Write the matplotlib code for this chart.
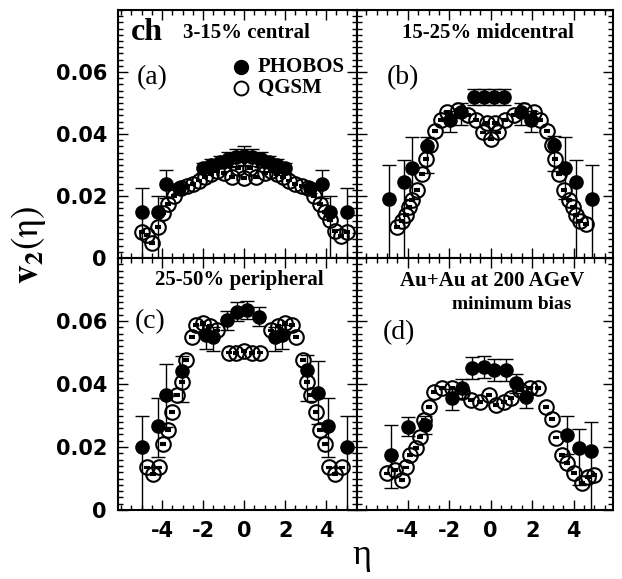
import matplotlib
matplotlib.use("Agg")
import matplotlib.pyplot as plt
from matplotlib.ticker import MultipleLocator, FixedLocator, NullFormatter

# ---- PHOBOS (filled) : eta, v2, upper err, lower err ----
eta_ph_a = [-5.0, -4.2, -3.8, -3.2, -2.0, -1.6, -1.2, -0.8, -0.4, 0.0, 0.4, 0.8, 1.2, 1.6, 2.0, 3.2, 3.8, 4.2, 5.0]
v2_ph_a = [0.015, 0.015, 0.0238, 0.0225, 0.029, 0.030, 0.031, 0.0318, 0.0325, 0.033, 0.0325, 0.0318, 0.031, 0.030, 0.029, 0.0225, 0.0238, 0.015, 0.015]
up_ph_a = [0.0075, 0.005, 0.0045, 0.0015, 0.0015, 0.002, 0.002, 0.0025, 0.0028, 0.003, 0.0028, 0.0025, 0.002, 0.002, 0.0015, 0.0015, 0.0045, 0.005, 0.0075]
dn_ph_a = [0.015, 0.015, 0.0045, 0.0015, 0.0015, 0.002, 0.002, 0.0025, 0.0028, 0.003, 0.0028, 0.0025, 0.002, 0.002, 0.0015, 0.0015, 0.0045, 0.015, 0.015]

eta_ph_b = [-4.9, -4.2, -3.8, -3.05, -1.95, -1.45, -0.8, -0.3, 0.15, 0.65, 1.45, 1.95, 3.05, 3.6, 4.1, 4.9]
v2_ph_b = [0.019, 0.0246, 0.029, 0.036, 0.0445, 0.047, 0.052, 0.052, 0.052, 0.052, 0.047, 0.0445, 0.0365, 0.029, 0.0246, 0.019]
up_ph_b = [0.011, 0.007, 0.010, 0.003, 0.003, 0.003, 0.0025, 0.0025, 0.0025, 0.0025, 0.003, 0.003, 0.003, 0.010, 0.007, 0.011]
dn_ph_b = [0.019, 0.0246, 0.010, 0.0085, 0.004, 0.004, 0.0025, 0.0025, 0.0025, 0.0025, 0.004, 0.004, 0.0085, 0.010, 0.0246, 0.019]

eta_ph_c = [-5.0, -4.2, -3.8, -3.05, -1.85, -1.5, -0.85, -0.37, 0.12, 0.7, 1.5, 1.85, 3.05, 3.6, 4.1, 5.0]
v2_ph_c = [0.0201, 0.0267, 0.0365, 0.0442, 0.0556, 0.055, 0.0603, 0.063, 0.0635, 0.0614, 0.055, 0.0556, 0.0444, 0.0373, 0.0267, 0.0201]
up_ph_c = [0.0097, 0.0088, 0.010, 0.0048, 0.003, 0.003, 0.003, 0.003, 0.003, 0.003, 0.003, 0.003, 0.0048, 0.010, 0.0088, 0.0097]
dn_ph_c = [0.0201, 0.0098, 0.010, 0.0098, 0.0045, 0.0045, 0.003, 0.003, 0.003, 0.003, 0.0045, 0.0045, 0.0098, 0.010, 0.0098, 0.0201]

eta_ph_d = [-4.83, -4.0, -3.17, -1.85, -1.37, -0.88, -0.32, 0.16, 0.72, 1.2, 1.7, 3.7, 4.27, 4.83]
v2_ph_d = [0.0175, 0.0265, 0.027, 0.0354, 0.0386, 0.045, 0.0455, 0.0444, 0.0444, 0.0402, 0.036, 0.0238, 0.0196, 0.0187]
up_ph_d = [0.0095, 0.003, 0.003, 0.003, 0.003, 0.0035, 0.0035, 0.0035, 0.0035, 0.003, 0.003, 0.006, 0.006, 0.0093]
dn_ph_d = [0.0106, 0.003, 0.003, 0.0037, 0.003, 0.0035, 0.0035, 0.0035, 0.0035, 0.003, 0.0037, 0.006, 0.0117, 0.0187]

# ---- QGSM (open) : eta, v2 ----
eta_qg_a = [-5.0, -4.75, -4.5, -4.2, -3.95, -3.7, -3.4, -3.1, -2.8, -2.5, -2.2, -1.9, -1.6, -1.3, -1.0, -0.6, -0.3, 0.0,
            0.3, 0.6, 1.0, 1.3, 1.6, 1.9, 2.2, 2.5, 2.8, 3.1, 3.4, 3.7, 3.95, 4.2, 4.45, 4.7, 5.0]
v2_qg_a = [0.0085, 0.0075, 0.0048, 0.010, 0.0145, 0.0175, 0.020, 0.0225, 0.0232, 0.024, 0.025, 0.026, 0.0272, 0.0282, 0.0275, 0.026, 0.029, 0.0258,
           0.029, 0.026, 0.0275, 0.0282, 0.0272, 0.026, 0.025, 0.024, 0.0232, 0.0225, 0.020, 0.0175, 0.0148, 0.0123, 0.0087, 0.0072, 0.0085]

eta_qg_b = [-4.5, -4.3, -4.1, -3.95, -3.8, -3.55, -3.3, -3.1, -2.95, -2.7, -2.4, -2.1, -1.6, -1.1, -0.7, -0.35, -0.2, 0.0,
            0.2, 0.35, 0.7, 1.1, 1.6, 2.1, 2.4, 2.7, 2.95, 3.1, 3.3, 3.55, 3.8, 3.95, 4.1, 4.3, 4.6]
v2_qg_b = [0.0101, 0.0118, 0.014, 0.0165, 0.0187, 0.022, 0.027, 0.032, 0.0364, 0.041, 0.0445, 0.047, 0.0477, 0.0461, 0.0445, 0.0405, 0.0435, 0.0385,
           0.0435, 0.0405, 0.0445, 0.0461, 0.0477, 0.047, 0.0445, 0.041, 0.0364, 0.032, 0.027, 0.022, 0.0187, 0.0165, 0.014, 0.0118, 0.0109]

eta_qg_c = [-4.75, -4.45, -4.15, -3.95, -3.7, -3.5, -3.25, -3.05, -2.85, -2.55, -2.35, -2.0, -1.65, -1.3, -0.75, -0.4, 0.0,
            0.4, 0.75, 1.3, 1.65, 2.0, 2.35, 2.55, 2.85, 3.05, 3.25, 3.5, 3.7, 3.95, 4.15, 4.45, 4.75]
v2_qg_c = [0.0135, 0.0115, 0.0135, 0.021, 0.0255, 0.031, 0.0365, 0.0405, 0.0475, 0.055, 0.0588, 0.0595, 0.0585, 0.057, 0.050, 0.0498, 0.0505,
           0.0498, 0.050, 0.057, 0.0585, 0.0595, 0.0588, 0.055, 0.0475, 0.0405, 0.0365, 0.031, 0.0255, 0.021, 0.0135, 0.0115, 0.0135]

eta_qg_d = [-5.0, -4.6, -4.3, -4.1, -3.9, -3.6, -3.4, -3.2, -3.0, -2.75, -2.35, -1.85, -1.37, -0.95, -0.5, -0.1,
            0.25, 0.65, 1.0, 1.4, 1.9, 2.3, 2.65, 2.95, 3.15, 3.45, 3.7, 4.0, 4.4, 4.7, 5.0]
v2_qg_d = [0.0116, 0.0127, 0.0095, 0.0135, 0.0175, 0.0196, 0.0233, 0.0286, 0.0328, 0.0376, 0.0386, 0.0386, 0.0376, 0.0349, 0.0344, 0.0365,
           0.0333, 0.0344, 0.0355, 0.038, 0.0386, 0.0386, 0.0328, 0.029, 0.023, 0.0175, 0.0148, 0.0117, 0.0085, 0.0106, 0.011]

yticks = [0, 0.02, 0.04, 0.06]
ytick_labels = ["0", "0.02", "0.04", "0.06"]
xticks = [-4, -2, 0, 2, 4]
xtick_labels = ["-4", "-2", "0", "2", "4"]

W, H = 622, 579
plt.rcParams["mathtext.fontset"] = "stix"
SERIF = "Liberation Serif"
TICKFONT = dict(family="DejaVu Sans", weight="bold", size=15)


def fx(px):
    return px / W


def fy(py):
    return 1 - py / H


def make_axes(fig, x0, x1, y0, y1, xlim):
    ax = fig.add_axes([fx(x0), fy(y1), (x1 - x0) / W, (y1 - y0) / H])
    ax.set_xlim(*xlim)
    ax.set_ylim(0, 0.08)
    ax.xaxis.set_major_locator(FixedLocator(xticks))
    ax.xaxis.set_minor_locator(MultipleLocator(0.5))
    ax.yaxis.set_major_locator(MultipleLocator(0.02))
    ax.yaxis.set_minor_locator(MultipleLocator(0.002))
    ax.tick_params(which="both", direction="in", top=True, right=True, width=1.0)
    ax.tick_params(which="major", length=7)
    ax.tick_params(which="minor", length=3.5)
    for s in ax.spines.values():
        s.set_linewidth(1.5)
    ax.xaxis.set_major_formatter(NullFormatter())
    ax.yaxis.set_major_formatter(NullFormatter())
    return ax


def draw(ax, eta_qg, v2_qg, eta_ph, v2_ph, up, dn):
    ax.errorbar(eta_qg, v2_qg, yerr=0.0003, fmt="o", ms=10.5, mfc="none", mec="black", mew=1.5,
                ecolor="black", elinewidth=1.0, capsize=2, zorder=2)
    ax.errorbar(eta_ph, v2_ph, yerr=[dn, up], fmt="o", ms=9.5, mfc="black", mec="black",
                ecolor="black", elinewidth=1.0, capsize=5, capthick=1.0, zorder=3)


fig = plt.figure(figsize=(W / 100, H / 100), dpi=100)

ax_a = make_axes(fig, 118, 357, 10, 258, (-6.15, 5.5))
ax_b = make_axes(fig, 357, 613, 10, 258, (-6.45, 5.9))
ax_c = make_axes(fig, 118, 357, 258, 510, (-6.15, 5.5))
ax_d = make_axes(fig, 357, 613, 258, 510, (-6.45, 5.9))

draw(ax_a, eta_qg_a, v2_qg_a, eta_ph_a, v2_ph_a, up_ph_a, dn_ph_a)
draw(ax_b, eta_qg_b, v2_qg_b, eta_ph_b, v2_ph_b, up_ph_b, dn_ph_b)
draw(ax_c, eta_qg_c, v2_qg_c, eta_ph_c, v2_ph_c, up_ph_c, dn_ph_c)
draw(ax_d, eta_qg_d, v2_qg_d, eta_ph_d, v2_ph_d, up_ph_d, dn_ph_d)

for ax in (ax_a, ax_c):
    ax.set_yticks(yticks)
    ax.set_yticklabels(ytick_labels, **TICKFONT)
    ax.tick_params(axis="y", pad=8)
for ax in (ax_c, ax_d):
    ax.set_xticks(xticks)
    ax.set_xticklabels(xtick_labels, **TICKFONT)
    ax.tick_params(axis="x", pad=8)

# panel annotations
fig.text(fx(131), fy(33), "ch", family=SERIF, weight="bold", size=23, va="center", ha="left")
fig.text(fx(246), fy(33), "3-15% central", family=SERIF, weight="bold", size=15, va="center", ha="center")
fig.text(fx(137), fy(78), "(a)", family=SERIF, size=20, va="center", ha="left")
fig.text(fx(488), fy(33), "15-25% midcentral", family=SERIF, weight="bold", size=15, va="center", ha="center")
fig.text(fx(387), fy(78), "(b)", family=SERIF, size=20, va="center", ha="left")
fig.text(fx(239), fy(280), "25-50% peripheral", family=SERIF, weight="bold", size=15, va="center", ha="center")
fig.text(fx(135), fy(322), "(c)", family=SERIF, size=20, va="center", ha="left")
fig.text(fx(492), fy(281), "Au+Au at 200 AGeV", family=SERIF, weight="bold", size=15, va="center", ha="center")
fig.text(fx(512), fy(304), "minimum bias", family=SERIF, weight="bold", size=14, va="center", ha="center")
fig.text(fx(383), fy(333), "(d)", family=SERIF, size=20, va="center", ha="left")

# legend in panel (a)
ax_a.plot([-0.15], [0.0615], "o", ms=10, mfc="black", mec="black")
ax_a.plot([-0.15], [0.0550], "o", ms=10, mfc="none", mec="black", mew=1.4)
fig.text(fx(258), fy(67), "PHOBOS", family=SERIF, weight="bold", size=15, va="center", ha="left")
fig.text(fx(258), fy(88), "QGSM", family=SERIF, weight="bold", size=15, va="center", ha="left")

# axis labels
fig.text(fx(28), fy(245), r"$\mathbf{v}_{\mathbf{2}}(\mathrm{\eta})$", size=27, rotation=90, va="center", ha="center")
fig.text(fx(362), fy(556), "η", family=SERIF, size=26, va="center", ha="center")

fig.savefig("out.png", dpi=100)
